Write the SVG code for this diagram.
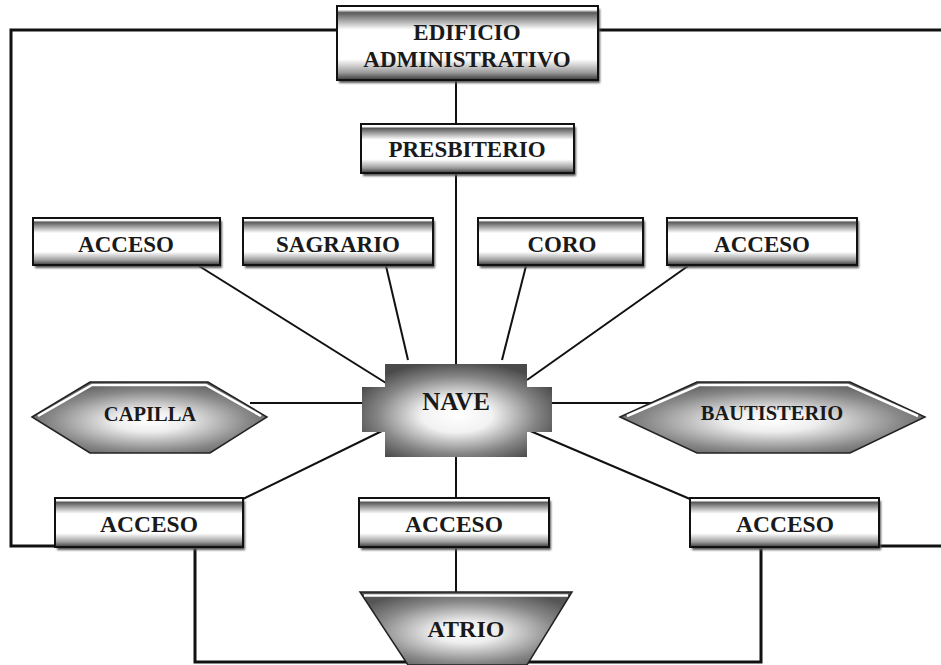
<svg xmlns="http://www.w3.org/2000/svg" width="941" height="665" viewBox="0 0 941 665">
  <style>
    .frame { fill: none; stroke: #111; stroke-width: 3; }
    .link { fill: none; stroke: #111; stroke-width: 2; }
    .box { fill: url(#boxFill); stroke: #111; stroke-width: 2; }
    .shadow { fill: #555; filter: url(#soft); }
    .hex { fill: url(#hexFill); stroke: #222; stroke-width: 1.5; }
    .hi { fill: none; stroke: #fff; stroke-width: 2.5; }
    .lbl { font-family: "Liberation Serif", "Times New Roman", serif; font-weight: bold; font-size: 23px; fill: #1a1a1a; text-anchor: middle; }
    .lbl2 { font-family: "Liberation Serif", "Times New Roman", serif; font-weight: bold; font-size: 23.5px; fill: #1a1a1a; text-anchor: middle; }
  </style>
  <defs>
    <linearGradient id="boxFill" x1="0" y1="0" x2="0" y2="1">
      <stop offset="0" stop-color="#ffffff"/>
      <stop offset="0.05" stop-color="#ffffff"/>
      <stop offset="0.09" stop-color="#5a5a5a"/>
      <stop offset="0.32" stop-color="#ffffff"/>
      <stop offset="0.72" stop-color="#ffffff"/>
      <stop offset="0.9" stop-color="#9a9a9a"/>
      <stop offset="1" stop-color="#3a3a3a"/>
    </linearGradient>
    <radialGradient id="hexFill" cx="0.5" cy="0.55" r="0.6">
      <stop offset="0" stop-color="#ffffff"/>
      <stop offset="0.25" stop-color="#eeeeee"/>
      <stop offset="0.7" stop-color="#888888"/>
      <stop offset="1" stop-color="#555555"/>
    </radialGradient>
    <radialGradient id="naveFill" cx="0.5" cy="0.55" r="0.58">
      <stop offset="0" stop-color="#ffffff"/>
      <stop offset="0.32" stop-color="#f2f2f2"/>
      <stop offset="0.72" stop-color="#858585"/>
      <stop offset="1" stop-color="#4a4a4a"/>
    </radialGradient>
    <filter id="soft" x="-5%" y="-20%" width="110%" height="140%">
      <feGaussianBlur stdDeviation="1"/>
    </filter>
  </defs>

  <!-- connectors -->
  <g id="connectors">
    <!-- outer frame -->
    <polyline class="frame" points="337,30 11,30 11,546 55,546"/>
    <line class="frame" x1="598" y1="30" x2="941" y2="30"/>
    <line class="frame" x1="879" y1="546" x2="941" y2="546"/>
    <!-- spine -->
    <line class="link" x1="456" y1="80" x2="456" y2="124"/>
    <line class="link" x1="456" y1="173" x2="456" y2="364"/>
    <!-- upper row to nave -->
    <line class="link" x1="199" y1="266" x2="386" y2="383"/>
    <line class="link" x1="386" y1="266" x2="408" y2="360"/>
    <line class="link" x1="526" y1="266" x2="502" y2="360"/>
    <line class="link" x1="688" y1="266" x2="527" y2="380"/>
    <!-- side chapels -->
    <line class="link" x1="250" y1="403" x2="362" y2="403"/>
    <line class="link" x1="552" y1="403" x2="660" y2="403"/>
    <!-- lower row -->
    <line class="link" x1="384" y1="430" x2="243" y2="499"/>
    <line class="link" x1="528" y1="430" x2="690" y2="499"/>
    <line class="link" x1="456" y1="457" x2="456" y2="498"/>
    <line class="link" x1="456" y1="547" x2="456" y2="592"/>
    <!-- atrio loop -->
    <polyline class="frame" points="195,547 195,662 412,662"/>
    <polyline class="frame" points="761,547 761,662 522,662"/>
  </g>

  <g id="edificio">
    <rect class="shadow" x="339" y="9" width="261" height="74"/>
    <rect class="box" x="337" y="6" width="261" height="74"/>
    <text class="lbl" x="467" y="40">EDIFICIO</text>
    <text class="lbl" x="467" y="67">ADMINISTRATIVO</text>
  </g>

  <g id="presbiterio">
    <rect class="shadow" x="363" y="127" width="213" height="49"/>
    <rect class="box" x="361" y="124" width="213" height="49"/>
    <text class="lbl" x="467" y="157">PRESBITERIO</text>
  </g>

  <g id="acceso-nw">
    <rect class="shadow" x="35" y="221" width="187" height="47"/>
    <rect class="box" x="33" y="218" width="187" height="47"/>
    <text class="lbl" x="126" y="252">ACCESO</text>
  </g>

  <g id="sagrario">
    <rect class="shadow" x="245" y="221" width="190" height="47"/>
    <rect class="box" x="243" y="218" width="190" height="47"/>
    <text class="lbl" x="338" y="252">SAGRARIO</text>
  </g>

  <g id="coro">
    <rect class="shadow" x="480" y="221" width="165" height="47"/>
    <rect class="box" x="478" y="218" width="165" height="47"/>
    <text class="lbl" x="562" y="252">CORO</text>
  </g>

  <g id="acceso-ne">
    <rect class="shadow" x="669" y="221" width="190" height="47"/>
    <rect class="box" x="667" y="218" width="190" height="47"/>
    <text class="lbl" x="762" y="252">ACCESO</text>
  </g>

  <g id="nave">
    <path d="M385,364 H527 V387 H552 V432 H527 V457 H385 V432 H362 V387 H385 Z" fill="url(#naveFill)"/>
    <text class="lbl" x="456" y="410" style="font-size:25px">NAVE</text>
  </g>

  <g id="capilla">
    <polygon class="hex" points="32,417 90,382 208,382 267,417 210,453 90,453"/>
    <polyline class="hi" points="38,416 92,385 206,385 261,416"/>
    <text class="lbl" x="150" y="421" style="font-size:20.5px">CAPILLA</text>
  </g>

  <g id="bautisterio">
    <polygon class="hex" points="620,417 697,382 850,382 925,417 850,453 697,453"/>
    <polyline class="hi" points="627,416 699,385 848,385 918,416"/>
    <text class="lbl" x="772" y="420" style="font-size:20.5px">BAUTISTERIO</text>
  </g>

  <g id="acceso-sw">
    <rect class="shadow" x="57" y="501" width="188" height="49"/>
    <rect class="box" x="55" y="498" width="188" height="49"/>
    <text class="lbl2" x="149" y="532">ACCESO</text>
  </g>

  <g id="acceso-s">
    <rect class="shadow" x="361" y="501" width="190" height="49"/>
    <rect class="box" x="359" y="498" width="190" height="49"/>
    <text class="lbl2" x="454" y="532">ACCESO</text>
  </g>

  <g id="acceso-se">
    <rect class="shadow" x="692" y="501" width="189" height="49"/>
    <rect class="box" x="690" y="498" width="189" height="49"/>
    <text class="lbl2" x="785" y="532">ACCESO</text>
  </g>

  <g id="atrio">
    <polygon class="hex" points="360,592 572,592 527,665 408,665"/>
    <line class="hi" x1="364" y1="595.5" x2="568" y2="595.5"/>
    <text class="lbl2" x="466" y="637" style="font-size:24px">ATRIO</text>
  </g>
</svg>
